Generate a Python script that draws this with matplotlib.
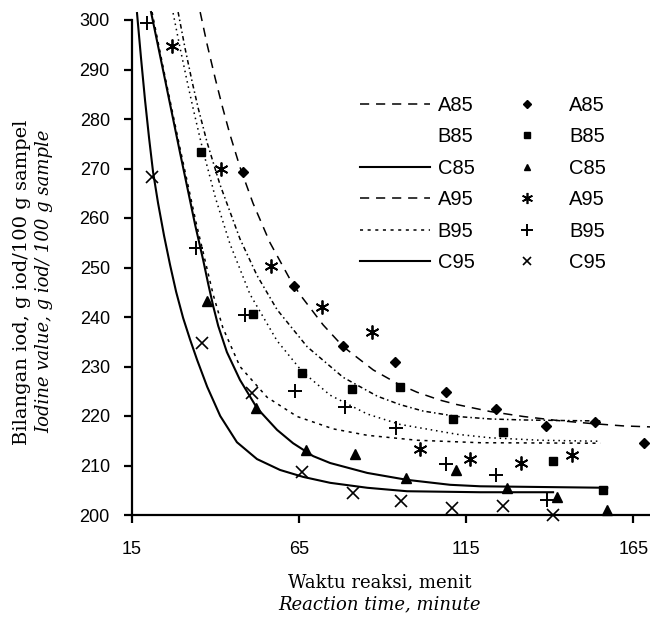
import numpy as np
import matplotlib
matplotlib.use('Agg')
import matplotlib.pyplot as plt
from matplotlib.lines import Line2D

# measured points (markers)
t_A85 = [48.2, 63.5, 78.2, 93.7, 109.0, 124.0, 139.0, 153.6, 168.3]
v_A85 = [269.3, 246.3, 234.1, 230.9, 224.8, 221.4, 218.0, 218.8, 214.5]
t_B85 = [35.7, 51.2, 66.0, 80.9, 95.2, 111.0, 126.0, 141.0, 156.0]
v_B85 = [273.3, 240.6, 228.7, 225.5, 225.9, 219.4, 216.8, 210.9, 205.0]
t_C85 = [37.5, 52.0, 67.0, 81.8, 97.0, 112.0, 127.3, 142.2, 157.2]
v_C85 = [243.3, 221.6, 213.1, 212.3, 207.5, 209.1, 205.5, 203.6, 201.0]
t_A95 = [27.0, 41.6, 56.6, 71.9, 86.9, 101.2, 116.2, 131.5, 146.7]
v_A95 = [294.7, 269.9, 250.3, 242.0, 237.0, 213.3, 211.3, 210.5, 212.1]
t_B95 = [19.5, 34.2, 48.8, 63.8, 78.8, 94.0, 109.0, 124.0, 139.3]
v_B95 = [299.4, 253.9, 240.4, 225.0, 221.8, 217.6, 210.3, 208.1, 203.0]
t_C95 = [21.0, 36.0, 51.0, 66.0, 81.0, 95.5, 110.8, 126.0, 141.0]
v_C95 = [268.3, 234.7, 224.6, 208.7, 204.4, 202.8, 201.4, 201.8, 200.0]

# model curves
ct_A85 = [35.4, 37.5, 39.9, 42.0, 44.3, 47.3, 51.2, 56.3, 62.3, 65.3, 72.2, 78.2, 87.2,
          94.3, 100.3, 107.2, 112.3, 122.2, 132.1, 142.2, 152.1, 162.0, 170.0]
cv_A85 = [301.6, 295.0, 288.2, 282.6, 276.9, 270.3, 263.0, 255.0, 247.6, 244.5, 238.4, 234.0, 229.3,
          226.6, 224.8, 223.2, 222.3, 220.9, 219.9, 219.1, 218.5, 218.0, 217.8]
ct_A95 = [28.8, 30.9, 33.0, 34.8, 37.5, 41.3, 47.3, 52.4, 58.4, 67.4, 78.2, 88.4, 95.2,
          102.1, 112.3, 122.2, 132.1, 142.2, 155.1]
cv_A95 = [301.6, 294.2, 287.5, 282.2, 275.2, 266.8, 255.8, 248.4, 241.5, 234.0, 227.8, 224.0, 222.3,
          221.0, 219.9, 219.4, 219.2, 219.1, 219.0]
ct_B85 = [27.3, 29.4, 31.5, 33.3, 35.4, 36.3, 40.0, 44.3, 50.3, 58.4, 65.9, 74.3, 85.4, 95.2,
          112.3, 122.2, 137.2, 155.1]
cv_B85 = [301.4, 294.3, 287.6, 282.1, 276.0, 273.5, 264.0, 254.8, 244.6, 235.2, 229.0, 224.2, 220.4, 218.3,
          216.3, 215.6, 215.1, 214.9]
ct_B95 = [21.0, 24.9, 29.4, 34.2, 39.3, 42.2, 47.3, 55.4, 64.4, 75.2, 85.4, 100.3, 119.2, 155.1]
cv_B95 = [301.6, 288.5, 274.0, 259.0, 244.5, 237.8, 230.0, 223.8, 219.9, 217.4, 216.1, 215.1, 214.6, 214.5]
ct_C85 = [20.7, 24.9, 29.4, 33.9, 36.3, 37.8, 39.3, 40.8, 43.4, 47.3, 52.4, 58.4, 63.2, 69.2,
          74.3, 85.4, 97.3, 110.2, 119.2, 157.2]
cv_C85 = [301.6, 287.9, 273.1, 258.6, 251.5, 246.7, 242.2, 238.2, 232.9, 227.3, 221.6, 217.2, 214.5, 211.9,
          210.5, 208.5, 207.1, 206.1, 205.8, 205.5]
ct_C95 = [16.5, 17.7, 18.9, 20.1, 21.3, 22.8, 24.6, 26.4, 28.2, 30.3, 32.4, 34.5, 37.5, 41.4,
          46.4, 52.4, 59.3, 66.2, 74.3, 85.4, 97.3, 119.2, 141.0]
cv_C95 = [301.4, 292.3, 283.8, 276.2, 269.3, 263.0, 256.4, 250.5, 245.1, 239.8, 235.4, 231.3, 225.9, 220.0,
          214.7, 211.3, 209.1, 207.7, 206.5, 205.5, 204.8, 204.6, 204.6]

labels = ['A85', 'B85', 'C85', 'A95', 'B95', 'C95']

fig = plt.figure(figsize=(6.5, 6.19), dpi=100)
ax = fig.add_axes([132/650, 104/619, 518/650, 495/619])

k = 'black'
ax.plot(ct_A85, cv_A85, color=k, lw=1.1, dashes=(6, 4.5), clip_on=False)
ax.plot(ct_B85, cv_B85, color=k, lw=1.1, dashes=(1, 2.5), clip_on=False)
ax.plot(ct_C85, cv_C85, color=k, lw=1.5, clip_on=False)
ax.plot(ct_A95, cv_A95, color=k, lw=1.1, dashes=(3, 2, 1, 2), clip_on=False)
ax.plot(ct_B95, cv_B95, color=k, lw=1.1, dashes=(2, 3), clip_on=False)
ax.plot(ct_C95, cv_C95, color=k, lw=1.5, clip_on=False)

ax.plot(t_A85, v_A85, 'D', color=k, ms=5.5, ls='none', clip_on=False)
ax.plot(t_B85, v_B85, 's', color=k, ms=6, ls='none', clip_on=False)
ax.plot(t_C85, v_C85, '^', color=k, ms=7, ls='none', clip_on=False)
ax.plot(t_A95, v_A95, marker=(6, 2, 0), color=k, ms=10, mew=1.3, ls='none', clip_on=False)
ax.plot(t_B95, v_B95, '+', color=k, ms=10, mew=1.4, ls='none', clip_on=False)
ax.plot(t_C95, v_C95, 'x', color=k, ms=8, mew=1.2, ls='none', clip_on=False)

ax.set_xlim(15, 170)
ax.set_ylim(200, 300)
ax.set_xticks([15, 65, 115, 165])
ax.set_yticks(np.arange(200, 301, 10))
for s in ['top', 'right']:
    ax.spines[s].set_visible(False)
for s in ['left', 'bottom']:
    ax.spines[s].set_linewidth(1.6)
ax.tick_params(direction='out', length=6, width=1.6, labelsize=13, pad=10)
ax.tick_params(axis='x', pad=13)
for lab in ax.get_xticklabels() + ax.get_yticklabels():
    lab.set_fontfamily('Liberation Sans')

# legend: line column then marker column
h_lines = [Line2D([], [], color=k, lw=1.1, dashes=(6, 4.5)),
           Line2D([], [], ls='none'),
           Line2D([], [], color=k, lw=1.5),
           Line2D([], [], color=k, lw=1.1, dashes=(6, 4.5)),
           Line2D([], [], color=k, lw=1.1, dashes=(2, 3)),
           Line2D([], [], color=k, lw=1.5)]
h_marks = [Line2D([], [], marker='D', color=k, ms=4, ls='none'),
           Line2D([], [], marker='s', color=k, ms=4.5, ls='none'),
           Line2D([], [], marker='^', color=k, ms=5, ls='none'),
           Line2D([], [], marker=(6, 2, 0), color=k, ms=8, mew=1.2, ls='none'),
           Line2D([], [], marker='+', color=k, ms=8, mew=1.4, ls='none'),
           Line2D([], [], marker='x', color=k, ms=6, mew=1.2, ls='none')]
leg = ax.legend(h_lines + h_marks, labels + labels, ncol=2, frameon=False,
                loc='upper left', bbox_to_anchor=((360-132)/518, (515-96)/495),
                borderpad=0, borderaxespad=0, handlelength=3.5, handletextpad=0.35,
                columnspacing=0.85, labelspacing=0.62,
                prop={'family': 'Liberation Sans', 'size': 14.5})

# axis titles
fig.text(380/650, 1-582/619, 'Waktu reaksi, menit', ha='center', va='center',
         family='DejaVu Serif', fontsize=13)
fig.text(380/650, 1-604/619, 'Reaction time, minute', ha='center', va='center',
         family='DejaVu Serif', fontsize=13, style='italic')
fig.text(22/650, 1-282/619, 'Bilangan iod, g iod/100 g sampel', ha='center', va='center',
         rotation=90, family='DejaVu Serif', fontsize=14)
fig.text(44/650, 1-281/619, 'Iodine value, g iod/ 100 g sample', ha='center', va='center',
         rotation=90, family='DejaVu Serif', fontsize=13, style='italic')

fig.savefig('out.png', dpi=100)
